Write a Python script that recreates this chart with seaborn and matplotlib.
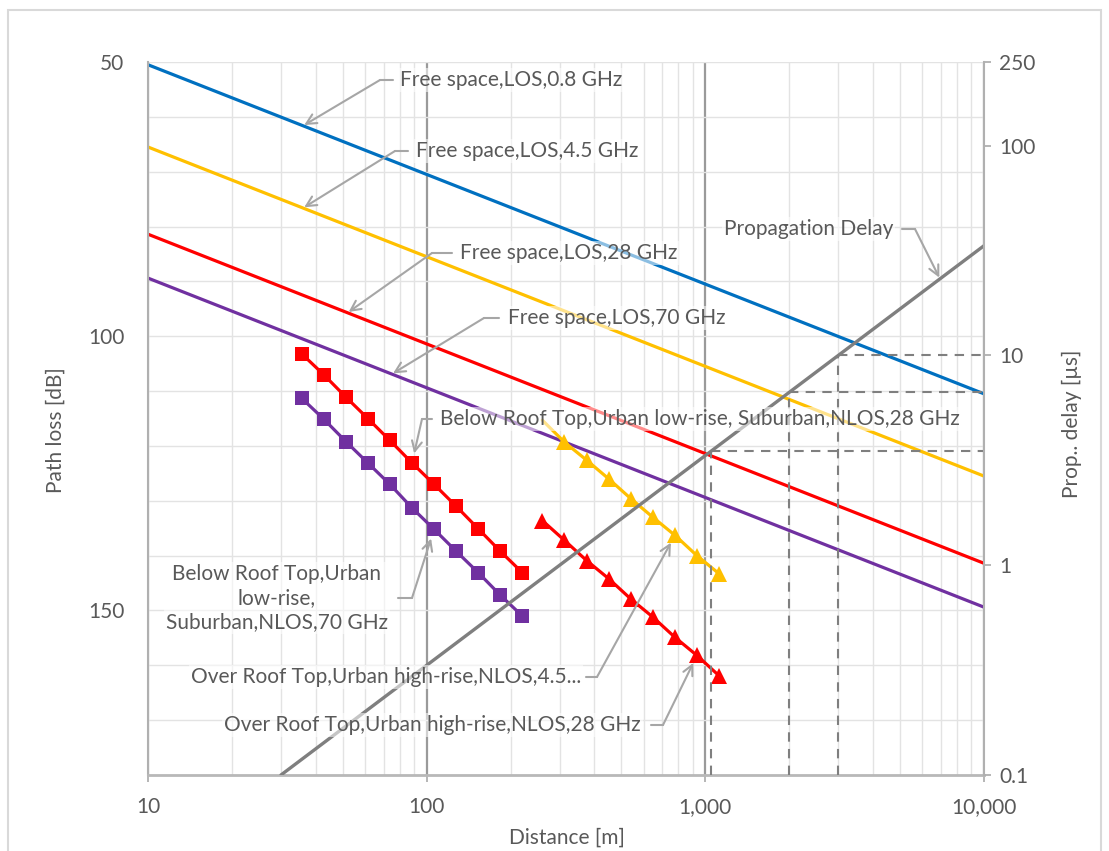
import matplotlib
matplotlib.use("Agg")
import numpy as np
import pandas as pd
import seaborn as sns
import matplotlib.pyplot as plt
from matplotlib.ticker import FixedLocator, NullLocator, FuncFormatter, MultipleLocator, LogLocator
from matplotlib.lines import Line2D
from matplotlib.patches import Rectangle

# ---------------- data ----------------
fs_dist = [10, 10000]
fs_0p8 = [50.5, 110.5]
fs_4p5 = [65.5, 125.5]
fs_28 = [81.4, 141.4]
fs_70 = [89.4, 149.4]

brt_dist = [35.6, 42.7, 51.3, 61.5, 73.8, 88.6, 106.3, 127.6, 153.1, 183.7, 220.4]
brt_28 = [103.2, 107.0, 111.1, 115.0, 119.0, 123.1, 127.0, 131.0, 135.1, 139.2, 143.1]
brt_70 = [111.3, 115.1, 119.2, 123.1, 127.0, 131.3, 135.2, 139.2, 143.1, 147.2, 151.0]

ort_dist = [260, 312, 375, 450, 540, 648, 778, 933, 1120]
ort_4p5 = [115.3, 119.3, 122.6, 126.0, 129.6, 133.0, 136.3, 140.0, 143.3]
ort_28 = [133.6, 137.2, 140.9, 144.2, 147.9, 151.2, 154.9, 158.2, 161.9]

delay_dist = [30, 10000]
delay_us = [0.1, 33.3]

mark_dist = [1050, 2000, 3000]
mark_delay = [3.5, 6.67, 10.0]

x_ticks = [10, 100, 1000, 10000]
y_ticks = [50, 100, 150]
y2_ticks = [0.1, 1, 10, 100, 250]
y2_labels = ["0.1", "1", "10", "100", "250"]

# ---------------- style ----------------
W, H = 1109, 851
sns.set_theme(style="white")
plt.rcParams['font.family'] = ['Lato', 'DejaVu Sans']
TXT = "#595959"
ARROW = "#A6A6A6"
FS = 15

BLUE, YELLOW, RED, PURPLE, GREY = "#0070C0", "#FFC000", "#FF0000", "#7030A0", "#7F7F7F"

def fx(px):
    return px / W

def fy(py):
    return 1 - py / H

fig = plt.figure(figsize=(W / 100, H / 100), dpi=100)
fig.patch.set_facecolor("white")
fig.patches.append(Rectangle((fx(8), fy(900)), fx(1093), fy(10) - fy(900), transform=fig.transFigure,
                             fill=False, edgecolor="#D9D9D9", lw=1.5, zorder=0))

L, R, T, B = 148, 984, 62, 775
ax = fig.add_axes([fx(L), fy(B), fx(R) - fx(L), fy(T) - fy(B)])
ax.set_facecolor("white")

# free-space lines
fs_df = pd.DataFrame({"d": fs_dist, "0.8": fs_0p8, "4.5": fs_4p5, "28": fs_28, "70": fs_70})
for col, c in [("0.8", BLUE), ("4.5", YELLOW), ("28", RED), ("70", PURPLE)]:
    sns.lineplot(data=fs_df, x="d", y=col, ax=ax, color=c, lw=2.3, legend=False)

brt_df = pd.DataFrame({"d": brt_dist, "p28": brt_28, "p70": brt_70})
sns.lineplot(data=brt_df, x="d", y="p28", ax=ax, color=RED, lw=2.3, marker="s", markersize=10.5,
             markeredgewidth=0, legend=False)
sns.lineplot(data=brt_df, x="d", y="p70", ax=ax, color=PURPLE, lw=2.3, marker="s", markersize=10.5,
             markeredgewidth=0, legend=False)

ort_df = pd.DataFrame({"d": ort_dist, "p45": ort_4p5, "p28": ort_28})
sns.lineplot(data=ort_df, x="d", y="p45", ax=ax, color=YELLOW, lw=2.3, marker="^", markersize=11.5,
             markeredgewidth=0, markevery=list(range(1, len(ort_dist))), legend=False)
sns.lineplot(data=ort_df, x="d", y="p28", ax=ax, color=RED, lw=2.3, marker="^", markersize=11.5,
             markeredgewidth=0, legend=False)

ax.set_xscale("log")
ax.set_xlim(10, 10000)
ax.set_ylim(180, 50)

ax.xaxis.set_major_locator(FixedLocator(x_ticks))
ax.xaxis.set_major_formatter(FuncFormatter(lambda v, p: f"{int(round(v)):,}"))
ax.xaxis.set_minor_locator(LogLocator(base=10, subs=np.arange(2, 10)))
ax.xaxis.set_minor_formatter(FuncFormatter(lambda v, p: ""))
ax.yaxis.set_major_locator(FixedLocator(y_ticks))
ax.yaxis.set_minor_locator(MultipleLocator(10))

ax.grid(which="minor", axis="x", color="#E3E3E3", lw=1.0)
ax.grid(which="major", axis="x", color="#9A9A9A", lw=1.6)
ax.grid(which="both", axis="y", color="#E3E3E3", lw=1.0)
ax.set_axisbelow(True)

ax.tick_params(axis="x", which="major", direction="out", length=5, width=1.3, color="#B0B0B0",
               labelsize=FS, labelcolor=TXT, pad=11, bottom=True)
ax.tick_params(axis="x", which="minor", length=0)
ax.tick_params(axis="y", which="both", length=0, labelsize=FS, labelcolor=TXT, pad=17)
for s in ["top", "right"]:
    ax.spines[s].set_visible(False)
ax.spines["left"].set_color("#B0B0B0")
ax.spines["left"].set_linewidth(1.5)
ax.spines["bottom"].set_color("#B8B8B8")
ax.spines["bottom"].set_linewidth(2.0)
ax.set_xlabel("")
ax.set_ylabel("")

# ---------------- right axis: propagation delay ----------------
ax2 = ax.twinx()
delay_df = pd.DataFrame({"d": delay_dist, "us": delay_us})
sns.lineplot(data=delay_df, x="d", y="us", ax=ax2, color=GREY, lw=2.4, legend=False)
for d, t in zip(mark_dist, mark_delay):
    ax2.plot([d, d], [0.1, t], color=GREY, lw=1.5, ls=(0, (4.5, 3.5)))
    ax2.plot([d, 10000], [t, t], color=GREY, lw=1.5, ls=(0, (4.5, 3.5)))
ax2.set_yscale("log")
ax2.set_ylim(0.1, 250)
ax2.set_xlim(10, 10000)
ax2.yaxis.set_major_locator(FixedLocator(y2_ticks))
ax2.set_yticklabels(y2_labels)
ax2.yaxis.set_minor_locator(NullLocator())
ax2.tick_params(axis="y", which="major", direction="out", length=5, width=1.3, color="#B0B0B0",
                labelsize=FS, labelcolor=TXT, pad=6)
for s in ["top", "left", "bottom"]:
    ax2.spines[s].set_visible(False)
ax2.spines["right"].set_color("#B0B0B0")
ax2.spines["right"].set_linewidth(1.5)
ax2.set_ylabel("")
ax2.set_xlabel("")

# ---------------- axis titles ----------------
fig.text(fx(56), fy(430), "Path loss [dB]", rotation=90, ha="center", va="center", fontsize=FS, color=TXT)
fig.text(fx(1072), fy(424), "Prop.. delay [µs]", rotation=90, ha="center", va="center", fontsize=FS, color=TXT)
fig.text(fx(567), fy(838), "Distance [m]", ha="center", va="center", fontsize=FS, color=TXT)

# ---------------- callouts ----------------
def on_line(d, xs, ys):
    return float(np.interp(np.log10(d), np.log10(xs), ys))

callouts = [
    ("Free space,LOS,0.8 GHz", (400, 80), "left", (380, 80), (393, 80), ax, (36, on_line(36, fs_dist, fs_0p8)), 1),
    ("Free space,LOS,4.5 GHz", (416, 151), "left", (395, 151), (408, 151), ax, (36, on_line(36, fs_dist, fs_4p5)), 1),
    ("Free space,LOS,28 GHz", (460, 253), "left", (432, 253), (452, 253), ax, (52, on_line(52, fs_dist, fs_28)), 1),
    ("Free space,LOS,70 GHz", (508, 318), "left", (484, 318), (499, 318), ax, (75, on_line(75, fs_dist, fs_70)), 1),
    ("Propagation Delay", (893, 229), "right", (915, 229), (902, 229), ax2,
     (6950, 10 ** on_line(6950, delay_dist, np.log10(delay_us))), 1),
    ("Below Roof Top,Urban low-rise, Suburban,NLOS,28 GHz", (440, 419), "left", (422, 419), (432, 419), ax,
     (brt_dist[5], brt_28[5]), 7),
    ("Below Roof Top,Urban\nlow-rise,\nSuburban,NLOS,70 GHz", (277, 598), "center", (412, 598), (398, 598), ax,
     (brt_dist[6], brt_70[6]), 7),
    ("Over Roof Top,Urban high-rise,NLOS,4.5...", (581, 677), "right", (597, 677), (586, 677), ax,
     (ort_dist[6], ort_4p5[6]), 6),
    ("Over Roof Top,Urban high-rise,NLOS,28 GHz", (641, 725), "right", (663, 725), (651, 725), ax,
     (ort_dist[7], ort_28[7]), 6),
]

for text, (tx, ty), ha, (ex, ey), (sx, sy), tax, target, shrink in callouts:
    ax2.add_line(Line2D([fx(ex), fx(sx)], [fy(ey), fy(sy)], transform=fig.transFigure,
                        color=ARROW, lw=1.5, zorder=6))
    ax2.annotate("", xy=target, xycoords=tax.transData, xytext=(fx(ex), fy(ey)),
                 textcoords="figure fraction",
                 arrowprops=dict(arrowstyle="->,head_length=0.6,head_width=0.3", color=ARROW, lw=1.5,
                                 shrinkA=0, shrinkB=shrink), zorder=6)
    ax2.text(fx(tx), fy(ty), text, transform=fig.transFigure, ha=ha, va="center", fontsize=FS,
             color=TXT, linespacing=1.25, multialignment="center", zorder=7,
             bbox=dict(boxstyle="square,pad=0.1", facecolor="white", edgecolor="none", alpha=0.55))

fig.savefig("out.png", dpi=100, facecolor="white")
